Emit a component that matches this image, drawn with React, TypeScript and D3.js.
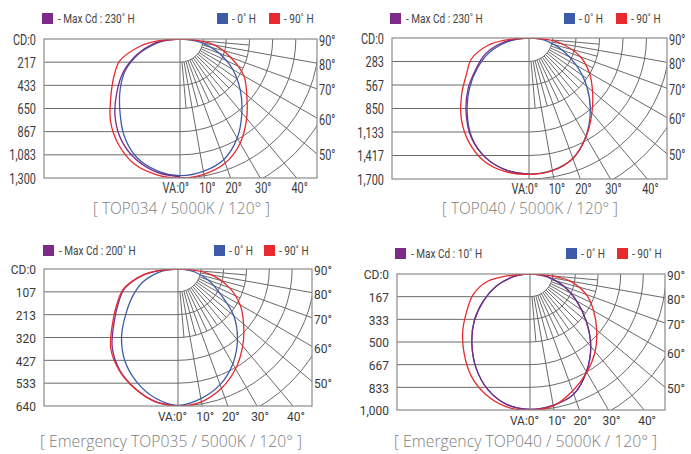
import React from 'react';
import * as d3 from 'd3';

// ---------- DATA ----------
const ANGLES = [0, 10, 20, 30, 40, 50, 60, 70, 80, 85, 90];
const RIGHT_ANGLE_LABELS = [90, 80, 70, 60, 50];
const BOTTOM_ANGLE_LABELS = [10, 20, 30, 40];

// TOP034
const TOP034_TITLE = '[ TOP034 / 5000K / 120° ]';
const TOP034_MAXCD_PLANE = '230';
const TOP034_TICKS = ['CD:0', '217', '433', '650', '867', '1,083', '1,300'];
const TOP034_MAX = 1300;
const TOP034_BLUE_L = [1278, 1250, 1180, 1045, 875, 730, 590, 415, 220, 115, 0];
const TOP034_BLUE_R = [1278, 1258, 1200, 1070, 900, 735, 570, 390, 210, 110, 0];
const TOP034_PURPLE_L = [1290, 1265, 1200, 1095, 945, 770, 610, 430, 250, 130, 0];
const TOP034_RED_L = [1300, 1288, 1245, 1145, 1010, 845, 715, 600, 375, 222, 0];
const TOP034_RED_R = [1300, 1285, 1235, 1125, 970, 815, 690, 505, 330, 190, 0];

// TOP040
const TOP040_TITLE = '[ TOP040 / 5000K / 120° ]';
const TOP040_MAXCD_PLANE = '230';
const TOP040_TICKS = ['CD:0', '283', '567', '850', '1,133', '1,417', '1,700'];
const TOP040_MAX = 1700;
const TOP040_BLUE_L = [1640, 1615, 1532, 1380, 1160, 935, 715, 510, 270, 140, 0];
const TOP040_BLUE_R = [1640, 1620, 1545, 1370, 1150, 910, 660, 430, 230, 120, 0];
const TOP040_PURPLE_L = [1640, 1615, 1535, 1390, 1180, 960, 735, 560, 330, 175, 0];
const TOP040_RED_L = [1645, 1635, 1580, 1450, 1270, 1060, 870, 740, 500, 293, 0];
const TOP040_RED_R = [1645, 1625, 1545, 1376, 1180, 1000, 840, 660, 400, 230, 0];

// Emergency TOP035
const ETOP035_TITLE = '[ Emergency TOP035 / 5000K / 120° ]';
const ETOP035_MAXCD_PLANE = '200';
const ETOP035_TICKS = ['CD:0', '107', '213', '320', '427', '533', '640'];
const ETOP035_MAX = 640;
const ETOP035_BLUE_L = [637, 612, 562, 496, 410, 315, 240, 172, 95, 50, 0];
const ETOP035_BLUE_R = [637, 615, 575, 512, 432, 340, 225, 150, 80, 42, 0];
const ETOP035_PURPLE_L = [640, 628, 592, 545, 478, 390, 322, 265, 165, 95, 0];
const ETOP035_RED_L = [640, 628, 593, 548, 488, 400, 330, 270, 170, 100, 0];
const ETOP035_RED_R = [640, 630, 593, 538, 470, 400, 335, 255, 160, 95, 0];

// Emergency TOP040
const ETOP040_TITLE = '[ Emergency TOP040 / 5000K / 120° ]';
const ETOP040_MAXCD_PLANE = '10';
const ETOP040_TICKS = ['CD:0', '167', '333', '500', '667', '833', '1,000'];
const ETOP040_MAX = 1000;
const ETOP040_BLUE_L = [995, 975, 905, 795, 665, 535, 395, 265, 135, 70, 0];
const ETOP040_BLUE_R = [995, 980, 940, 830, 695, 540, 395, 265, 135, 70, 0];
const ETOP040_PURPLE_L = [995, 975, 905, 795, 665, 535, 395, 265, 135, 70, 0];
const ETOP040_PURPLE_R = [995, 980, 940, 830, 695, 540, 395, 265, 135, 70, 0];
const ETOP040_RED_L = [1000, 992, 945, 865, 755, 645, 535, 445, 320, 180, 0];
const ETOP040_RED_R = [1000, 985, 915, 835, 745, 640, 540, 440, 300, 170, 0];

// ---------- STYLE ----------
const PURPLE = '#7d2a88';
const BLUE = '#3d5ba8';
const RED = '#e8292d';
const GRID = '#6a6a6a';
const BOX = '#8a8a8a';
const LABEL = '#3a3a3a';
const TITLE = '#7c7c7c';
const FONT = 'Roboto, "Noto Sans", sans-serif';

type Series = { color: string; left: number[]; right: number[] | null };
type Panel = {
  title: string; plane: string; ticks: string[]; max: number; series: Series[];
  box: { l: number; t: number; r: number; b: number; cx: number };
  legend: { y: number; purple: number; blue: number; red: number };
  titleX: number; titleY: number; titleLen: number;
  tickSize: number; tickScale: number;
};

const PANELS: Panel[] = [
  {
    title: TOP034_TITLE, plane: TOP034_MAXCD_PLANE, ticks: TOP034_TICKS, max: TOP034_MAX,
    series: [
      { color: BLUE, left: TOP034_BLUE_L, right: TOP034_BLUE_R },
      { color: PURPLE, left: TOP034_PURPLE_L, right: null },
      { color: RED, left: TOP034_RED_L, right: TOP034_RED_R },
    ],
    box: { l: 44, t: 39, r: 317, b: 178, cx: 180 },
    legend: { y: 13, purple: 42, blue: 217, red: 269 },
    titleX: 181.5, titleY: 214, titleLen: 177, tickSize: 14, tickScale: 0.78,
  },
  {
    title: TOP040_TITLE, plane: TOP040_MAXCD_PLANE, ticks: TOP040_TICKS, max: TOP040_MAX,
    series: [
      { color: BLUE, left: TOP040_BLUE_L, right: TOP040_BLUE_R },
      { color: PURPLE, left: TOP040_PURPLE_L, right: null },
      { color: RED, left: TOP040_RED_L, right: TOP040_RED_R },
    ],
    box: { l: 392, t: 38, r: 667, b: 179, cx: 529 },
    legend: { y: 13, purple: 390, blue: 564, red: 616 },
    titleX: 530, titleY: 214, titleLen: 176, tickSize: 14, tickScale: 0.78,
  },
  {
    title: ETOP035_TITLE, plane: ETOP035_MAXCD_PLANE, ticks: ETOP035_TICKS, max: ETOP035_MAX,
    series: [
      { color: BLUE, left: ETOP035_BLUE_L, right: ETOP035_BLUE_R },
      { color: PURPLE, left: ETOP035_PURPLE_L, right: null },
      { color: RED, left: ETOP035_RED_L, right: ETOP035_RED_R },
    ],
    box: { l: 44, t: 269, r: 312, b: 406, cx: 178 },
    legend: { y: 245, purple: 43, blue: 214, red: 264 },
    titleX: 171, titleY: 447, titleLen: 262, tickSize: 13, tickScale: 0.92,
  },
  {
    title: ETOP040_TITLE, plane: ETOP040_MAXCD_PLANE, ticks: ETOP040_TICKS, max: ETOP040_MAX,
    series: [
      { color: BLUE, left: ETOP040_BLUE_L, right: ETOP040_BLUE_R },
      { color: PURPLE, left: ETOP040_PURPLE_L, right: ETOP040_PURPLE_R },
      { color: RED, left: ETOP040_RED_L, right: ETOP040_RED_R },
    ],
    box: { l: 397, t: 274, r: 665, b: 410, cx: 530 },
    legend: { y: 248, purple: 395, blue: 566, red: 617 },
    titleX: 525.5, titleY: 447, titleLen: 263, tickSize: 13, tickScale: 0.92,
  },
];

const rad = (d: number) => (d * Math.PI) / 180;

function SText({
  x, y, sx, size, anchor = 'start', baseline = 'central', fill = LABEL, children,
}: {
  x: number; y: number; sx: number; size: number; anchor?: string; baseline?: string; fill?: string; children: React.ReactNode;
}) {
  return (
    <text
      transform={`translate(${x},${y}) scale(${sx},1)`}
      x={0}
      y={0}
      textAnchor={anchor as any}
      dominantBaseline={baseline as any}
      fontFamily={FONT}
      fontSize={size}
      fill={fill}
    >
      {children}
    </text>
  );
}

function PolarPanel({ p, idx }: { p: Panel; idx: number }) {
  const { l, t, r, b, cx } = p.box;
  const H = b - t;
  const oy = t;
  const step = H / 6;
  const rs = d3.scaleLinear().domain([0, p.max]).range([0, H]);
  const yTick = d3.scaleLinear().domain([0, 6]).range([t, b]);
  const clipId = `clip-${idx}`;

  const arcs: string[] = [];
  for (let k = 1; k <= 7; k++) {
    const rr = k * step;
    const path = d3.path();
    path.moveTo(cx, oy + rr);
    path.arc(cx, oy, rr, Math.PI / 2, 0, true);
    arcs.push(path.toString());
  }
  const rays: { a: number; r0: number; r1: number }[] = [];
  for (let a = 5; a <= 85; a += 5) {
    rays.push({ a, r0: step, r1: a % 10 === 0 ? 600 : 3 * step });
  }

  const line = d3
    .line<[number, number]>()
    .x((d) => d[0])
    .y((d) => d[1])
    .curve(d3.curveCatmullRom.alpha(0.5));

  const seriesPath = (s: Series) => {
    const pts: [number, number][] = [];
    for (let i = ANGLES.length - 1; i >= 0; i--) {
      const th = rad(ANGLES[i]);
      const rr = rs(s.left[i]);
      pts.push([cx - rr * Math.sin(th), oy + rr * Math.cos(th)]);
    }
    if (s.right) {
      for (let i = 1; i < ANGLES.length; i++) {
        const th = rad(ANGLES[i]);
        const rr = rs(s.right[i]);
        pts.push([cx + rr * Math.sin(th), oy + rr * Math.cos(th)]);
      }
    }
    return line(pts) || '';
  };

  const LS = 0.84; // legend condensing
  return (
    <g>
      <defs>
        <clipPath id={clipId}>
          <rect x={l} y={t} width={r - l} height={b - t} />
        </clipPath>
      </defs>
      {/* legend */}
      <rect x={p.legend.purple} y={p.legend.y} width={11} height={11} fill={PURPLE} />
      <SText x={p.legend.purple + 16} y={p.legend.y + 10} sx={LS} size={12} baseline="auto" fill="#444">
        {`- Max Cd : ${p.plane}˚ H`}
      </SText>
      <rect x={p.legend.blue} y={p.legend.y} width={11} height={11} fill={BLUE} />
      <SText x={p.legend.blue + 15} y={p.legend.y + 10} sx={LS} size={12} baseline="auto" fill="#444">
        {'- 0˚ H'}
      </SText>
      <rect x={p.legend.red} y={p.legend.y} width={11} height={11} fill={RED} />
      <SText x={p.legend.red + 15} y={p.legend.y + 10} sx={LS} size={12} baseline="auto" fill="#444">
        {'- 90˚ H'}
      </SText>

      {/* grid */}
      <g clipPath={`url(#${clipId})`} fill="none" stroke={GRID} strokeWidth={1}>
        {d3.range(1, 6).map((k) => (
          <line key={`h${k}`} x1={l} x2={cx} y1={yTick(k)} y2={yTick(k)} />
        ))}
        {arcs.map((d, i) => (
          <path key={`a${i}`} d={d} />
        ))}
        {rays.map((ry) => {
          const th = rad(ry.a);
          return (
            <line
              key={`r${ry.a}`}
              x1={cx + ry.r0 * Math.sin(th)}
              y1={oy + ry.r0 * Math.cos(th)}
              x2={cx + ry.r1 * Math.sin(th)}
              y2={oy + ry.r1 * Math.cos(th)}
            />
          );
        })}
        <line x1={cx} x2={cx} y1={t} y2={b} />
      </g>

      {/* curves */}
      <g clipPath={`url(#${clipId})`} fill="none" strokeWidth={1.3}>
        {p.series.map((s, i) => (
          <path key={i} d={seriesPath(s)} stroke={s.color} />
        ))}
      </g>

      <rect x={l} y={t} width={r - l} height={b - t} fill="none" stroke={BOX} strokeWidth={1.2} />

      {/* left tick labels */}
      {p.ticks.map((tk, i) => (
        <SText key={tk} x={l - 8} y={yTick(i) + 0.5} sx={p.tickScale} size={p.tickSize} anchor="end">
          {tk}
        </SText>
      ))}

      {/* right angle labels */}
      {RIGHT_ANGLE_LABELS.map((a) => {
        const y = a === 90 ? oy : oy + (r - cx) / Math.tan(rad(a));
        return (
          <SText key={`ra${a}`} x={r + 2} y={y + 1.5} sx={p.tickScale} size={p.tickSize}>
            {`${a}°`}
          </SText>
        );
      })}

      {/* bottom angle labels */}
      <SText x={cx + 9} y={b + 10} sx={p.tickScale} size={p.tickSize} anchor="end">
        {'VA:0°'}
      </SText>
      {BOTTOM_ANGLE_LABELS.map((a) => (
        <SText key={`ba${a}`} x={cx + H * Math.tan(rad(a)) + 3} y={b + 10} sx={p.tickScale} size={p.tickSize} anchor="middle">
          {`${a}°`}
        </SText>
      ))}

      {/* title */}
      <text
        x={p.titleX}
        y={p.titleY}
        textAnchor="middle"
        fontFamily='"Open Sans", "Noto Sans", sans-serif'
        fontWeight={300}
        fontSize={17}
        textLength={p.titleLen}
        lengthAdjust="spacingAndGlyphs"
        fill={TITLE}
      >
        {p.title}
      </text>
    </g>
  );
}

export default function App() {
  return (
    <svg width={691} height={454} style={{ position: 'absolute', left: 0, top: 0, background: '#fff' }}>
      <rect width={691} height={454} fill="#fff" />
      {PANELS.map((p, i) => (
        <PolarPanel key={i} p={p} idx={i} />
      ))}
    </svg>
  );
}
